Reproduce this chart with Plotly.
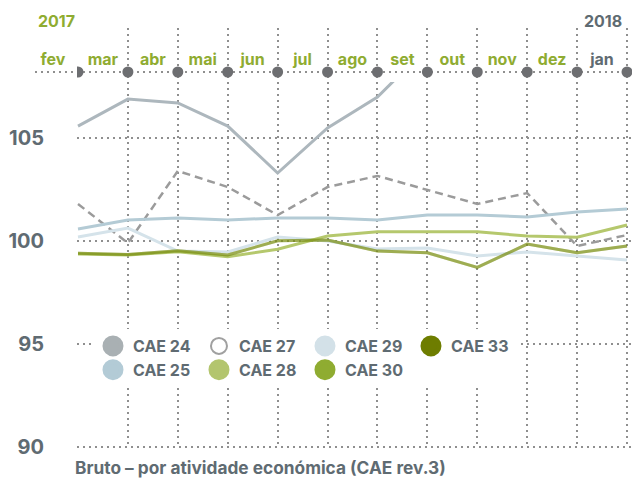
import plotly.graph_objects as go

# ---------------- data ----------------
months = ["fev", "mar", "abr", "mai", "jun", "jul", "ago", "set", "out", "nov", "dez", "jan"]
year_labels = ["2017", "2018"]
y_ticks = [90, 95, 100, 105]

cae24 = [105.58, 106.89, 106.70, 105.58, 103.30, 105.49, 106.99, 109.40, None, None, None, None]
cae25 = [100.58, 101.02, 101.12, 101.02, 101.12, 101.12, 101.02, 101.26, 101.26, 101.17, 101.41, 101.55]
cae27 = [101.80, 99.90, 103.40, 102.62, 101.26, 102.62, 103.16, 102.48, 101.80, 102.33, 99.76, 100.29]
cae28 = [99.37, 99.32, 99.48, 99.24, 99.60, 100.24, 100.45, 100.45, 100.45, 100.24, 100.18, 100.78]
cae29 = [100.19, 100.63, 99.51, 99.47, 100.19, 100.00, 99.61, 99.66, 99.27, 99.47, 99.27, 99.08]
cae30 = [99.40, 99.35, 99.53, 99.32, 100.01, 100.05, 99.51, 99.43, 98.72, 99.85, 99.43, 99.76]
cae33 = [99.40, 99.35, 99.53, 99.32, 100.01, 100.05, 99.51, 99.43, 98.72, 99.85, 99.43, 99.76]

title_text = "Bruto – por atividade económica (CAE rev.3)"

# ---------------- styles ----------------
FONT = "Inter"
TEXT = "#5f6b72"
GREEN = "#8fac31"
GRID = "#8f8f8f"
DOT = "2px,4px"
TIMELINE_VALUE = 0.185  # level of the month marker row in the strip above the plot

x = list(range(len(months)))

styles = {
    "CAE 24": dict(data=cae24, line="#adb7bd", legend="#a9b0b3", dash="solid", op=1.0),
    "CAE 27": dict(data=cae27, line="#9b9b9b", legend="#9b9b9b", dash="8px,5px", op=1.0),
    "CAE 25": dict(data=cae25, line="#b4cbd5", legend="#b3cbd6", dash="solid", op=1.0),
    "CAE 29": dict(data=cae29, line="#d5e3ea", legend="#d3e1e8", dash="solid", op=1.0),
    "CAE 28": dict(data=cae28, line="#b5c86d", legend="#b3c56e", dash="solid", op=1.0),
    "CAE 30": dict(data=cae30, line="#8fac31", legend="#8fac31", dash="solid", op=0.5),
    "CAE 33": dict(data=cae33, line="#6e7d00", legend="#6e7d00", dash="solid", op=0.45),
}

fig = go.Figure()

for name, s in styles.items():
    fig.add_trace(go.Scatter(
        x=x, y=s["data"], mode="lines", name=name, showlegend=False,
        line=dict(color=s["line"], width=3 if s["dash"] == "solid" else 2.5, dash=s["dash"]),
        opacity=s["op"], hoverinfo="skip",
    ))

# legend entries (circles), arranged in columns
legend_order = [["CAE 24", "CAE 25"], ["CAE 27", "CAE 28"], ["CAE 29", "CAE 30"], ["CAE 33"]]
for ci, col in enumerate(legend_order):
    for name in col:
        s = styles[name]
        if name == "CAE 27":
            marker = dict(size=16, color="white", line=dict(color="#a0a0a0", width=2))
        else:
            marker = dict(size=16, color=s["legend"], line=dict(color=s["legend"], width=5))
        fig.add_trace(go.Scatter(
            x=[None], y=[None], mode="markers", name=name, legendgroup=f"g{ci}",
            marker=marker, showlegend=True,
        ))

# month marker row in the strip above the plot
fig.add_trace(go.Scatter(
    x=x, y=[TIMELINE_VALUE] * len(x), mode="markers", showlegend=False, yaxis="y2",
    marker=dict(size=11, color="#6d6e71"), hoverinfo="skip",
))

H = 448 - 28  # plot-area height in px (for paper placement of decorations)
shapes = [dict(type="line", xref="paper", yref="paper", x0=(35 - 77) / 555, x1=1,
               y0=(448 - 72) / H, y1=(448 - 72) / H,
               line=dict(color=GRID, width=2, dash=DOT), layer="below")]

tick_text = [m if m != "jan" else f'<span style="color:{TEXT}">{m}</span>' for m in months]

fig.update_layout(
    width=632, height=480,
    margin=dict(l=77, r=0, t=28, b=32),
    paper_bgcolor="white", plot_bgcolor="rgba(0,0,0,0)",
    font=dict(family=FONT, color=TEXT),
    shapes=shapes,
    xaxis=dict(
        range=[-0.02, 11.1], side="top", anchor="y", tickmode="array", tickvals=x, ticktext=tick_text,
        ticklabelshift=-25, ticks="outside", ticklen=10, tickcolor="rgba(0,0,0,0)",
        tickfont=dict(family=FONT, size=16, color=GREEN, weight="bold"),
        showgrid=True, gridcolor=GRID, gridwidth=2, griddash=DOT,
        zeroline=False, showline=False, fixedrange=True,
    ),
    yaxis=dict(
        domain=[0, 366 / H], range=[89.95, 107.72], tickmode="array", tickvals=y_ticks,
        ticks="outside", ticklen=28, tickcolor="rgba(0,0,0,0)",
        tickfont=dict(family=FONT, size=20, color=TEXT, weight="bold"),
        showgrid=True, gridcolor=GRID, gridwidth=2, griddash=DOT,
        zeroline=False, showline=False, fixedrange=True,
    ),
    yaxis2=dict(
        domain=[366 / H, 1], range=[0, 1], anchor="x", showgrid=False, showticklabels=False,
        ticks="", zeroline=False, showline=False, fixedrange=True,
    ),
    legend=dict(
        orientation="h", traceorder="grouped", x=0.0288, xanchor="left",
        y=(448 - 329) / H, yanchor="top", bgcolor="white", borderwidth=0,
        font=dict(family=FONT, size=16, color=TEXT, weight="bold"),
        entrywidth=61, tracegroupgap=0,
    ),
    annotations=[
        dict(text=year_labels[0], xref="paper", yref="paper", x=(56.5 - 77) / 555, y=(448 - 21) / H,
             showarrow=False, font=dict(family=FONT, size=16, color=GREEN, weight="bold"),
             xanchor="center", yanchor="middle"),
        dict(text=year_labels[1], xref="paper", yref="paper", x=(603 - 77) / 555, y=(448 - 21) / H,
             showarrow=False, font=dict(family=FONT, size=16, color=TEXT, weight="bold"),
             xanchor="center", yanchor="middle"),
        dict(text=title_text, xref="paper", yref="paper", x=(73 - 77) / 555, y=-(467 - 448) / H,
             showarrow=False, font=dict(family=FONT, size=17.3, color=TEXT, weight="bold"),
             xanchor="left", yanchor="middle"),
    ],
)

fig.write_html("out.html", config={"displayModeBar": False},
               post_script="document.body.style.margin='0';document.body.style.overflow='hidden';")
